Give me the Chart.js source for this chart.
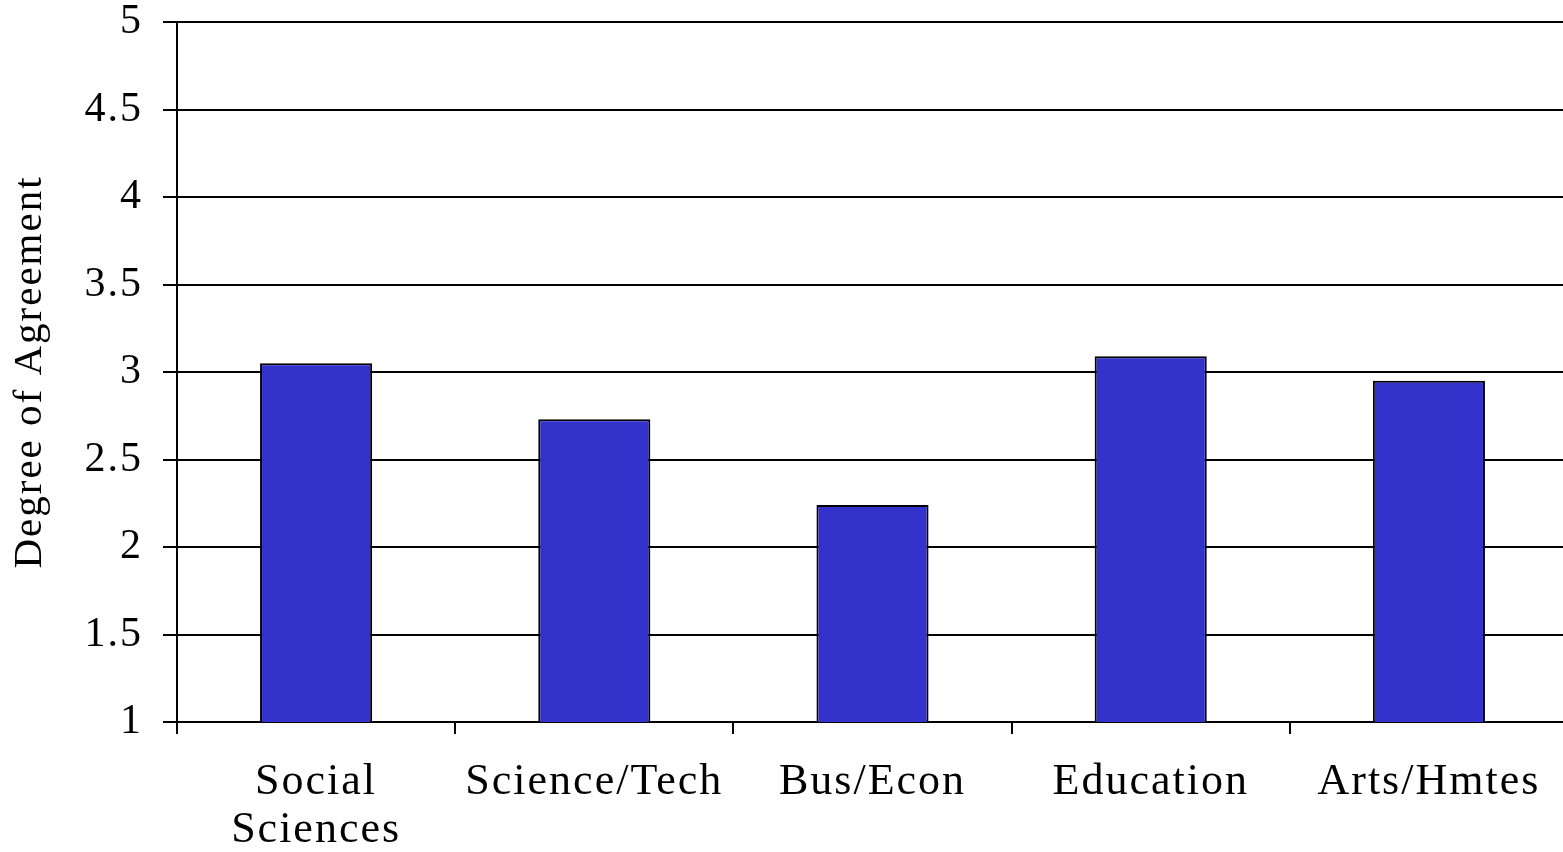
<!DOCTYPE html>
<html>
<head>
<meta charset="utf-8">
<script src="https://cdn.jsdelivr.net/npm/chart.js@4/dist/chart.umd.min.js"></script>
<style>
  html, body { margin: 0; padding: 0; background: #fff; overflow: hidden; }
  #wrap { width: 1563px; height: 852px; overflow: hidden; position: relative; }
  canvas { display: block; }
</style>
</head>
<body>
<div id="wrap"><canvas id="c" width="1568" height="852"></canvas></div>
<script>
const categories = [["Social", "Sciences"], "Science/Tech", "Bus/Econ", "Education", "Arts/Hmtes"];
const agreement = [3.05, 2.73, 2.24, 3.09, 2.95];
const yTickLabels = ["1", "1.5", "2", "2.5", "3", "3.5", "4", "4.5", "5"];
const yTitle = "Degree of Agreement";

const FONT = '"Liberation Serif", "Times New Roman", serif';
const SPACING = '2px';

const spacingPlugin = {
  id: 'letterSpacing',
  beforeInit(c) { c.ctx.letterSpacing = SPACING; },
  beforeUpdate(c) { c.ctx.letterSpacing = SPACING; },
  beforeLayout(c) { c.ctx.letterSpacing = SPACING; },
  beforeDraw(c) { c.ctx.letterSpacing = SPACING; }
};

new Chart(document.getElementById('c'), {
  type: 'bar',
  data: {
    labels: categories,
    datasets: [{
      data: agreement,
      backgroundColor: '#3333CC',
      borderColor: '#000000',
      borderWidth: 2,
      borderSkipped: false,
      barPercentage: 0.403,
      categoryPercentage: 1.0
    }]
  },
  options: {
    responsive: false,
    animation: false,
    layout: { padding: { top: 22, left: 0, right: 0, bottom: 0 } },
    plugins: { legend: { display: false }, tooltip: { enabled: false } },
    scales: {
      x: {
        offset: true,
        grid: {
          offset: true,
          drawOnChartArea: false,
          drawTicks: true,
          tickLength: 12,
          color: '#000',
          lineWidth: 2
        },
        border: { display: true, color: '#000', width: 2 },
        ticks: {
          color: '#000',
          maxRotation: 0,
          autoSkip: false,
          padding: 24,
          font: { family: FONT, size: 44, lineHeight: 1.1 }
        },
        afterFit(s) { s.height = 130; s.paddingLeft = 0; s.paddingRight = 0; }
      },
      y: {
        min: 1,
        max: 5,
        ticks: {
          stepSize: 0.5,
          color: '#000',
          padding: 20,
          font: { family: FONT, size: 42 },
          callback: (v) => {
            const i = Math.round((v - 1) / 0.5);
            return yTickLabels[i];
          }
        },
        grid: {
          color: '#000',
          lineWidth: 2,
          drawTicks: true,
          tickLength: 14
        },
        border: { display: true, color: '#000', width: 2 },
        title: {
          display: true,
          text: yTitle,
          color: '#000',
          font: { family: FONT, size: 41, lineHeight: 1.2 },
          padding: { top: 6, bottom: 0 }
        },
        afterFit(s) { s.width = 177; s.paddingTop = 0; s.paddingBottom = 0; }
      }
    }
  },
  plugins: [spacingPlugin]
});
</script>
</body>
</html>
